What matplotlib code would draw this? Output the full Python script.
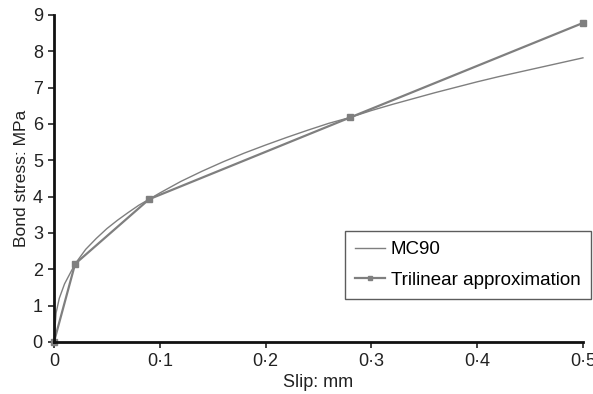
import matplotlib

matplotlib.use("Agg")
import matplotlib.pyplot as plt

# MC90 bond-slip curve
mc90_slip = [0, 0.002, 0.005, 0.01, 0.02, 0.03, 0.04, 0.05, 0.06, 0.07, 0.08, 0.09,
             0.10, 0.12, 0.14, 0.16, 0.18, 0.20, 0.22, 0.24, 0.26, 0.28, 0.30, 0.32,
             0.34, 0.36, 0.38, 0.40, 0.42, 0.44, 0.46, 0.48, 0.50]
mc90_stress = [0, 0.8, 1.2, 1.6, 2.15, 2.55, 2.85, 3.12, 3.35, 3.56, 3.76, 3.93,
               4.1, 4.42, 4.7, 4.96, 5.2, 5.42, 5.63, 5.83, 6.02, 6.18, 6.37, 6.54,
               6.7, 6.86, 7.01, 7.16, 7.3, 7.43, 7.56, 7.69, 7.82]

# trilinear approximation
tri_slip = [0, 0.02, 0.09, 0.28, 0.5]
tri_stress = [0, 2.15, 3.93, 6.18, 8.78]

x_ticks = [0, 0.1, 0.2, 0.3, 0.4, 0.5]
x_labels = ["0", "0·1", "0·2", "0·3", "0·4", "0·5"]
y_ticks = list(range(10))

plt.rcParams["font.family"] = ["Liberation Sans", "DejaVu Sans"]

fig = plt.figure(figsize=(5.93, 3.94), dpi=100)
ax = fig.add_axes([0.091, 0.132, 0.892, 0.830])

grey = "#7f7f7f"
ax.plot(mc90_slip, mc90_stress, color=grey, lw=1.0, label="MC90", clip_on=False)
ax.plot(tri_slip, tri_stress, color=grey, lw=1.6, marker="s", ms=4,
        label="Trilinear approximation", clip_on=False)

ax.set_xlim(0, 0.5)
ax.set_ylim(0, 9)
ax.set_xticks(x_ticks)
ax.set_xticklabels(x_labels)
ax.set_yticks(y_ticks)
ax.tick_params(labelsize=13, colors="#222222", width=1.2, length=4, pad=4)
for side in ("top", "right"):
    ax.spines[side].set_visible(False)
for side in ("left", "bottom"):
    ax.spines[side].set_linewidth(2)
    ax.spines[side].set_color("#111111")

ax.set_xlabel("Slip: mm", fontsize=13, labelpad=3, color="#222222")
ax.set_ylabel("Bond stress: MPa", fontsize=12.5, labelpad=3, color="#222222")

leg = ax.legend(loc="upper right", bbox_to_anchor=(591 / 593, 1 - 231 / 394),
                bbox_transform=fig.transFigure, borderaxespad=0, fancybox=False,
                fontsize=13.5, handlelength=1.6, handletextpad=0.3,
                labelspacing=0.7, borderpad=0.55, markerscale=0.7)
leg.get_frame().set_edgecolor("#333333")
leg.get_frame().set_linewidth(1.0)

fig.savefig("out.png", dpi=100)
